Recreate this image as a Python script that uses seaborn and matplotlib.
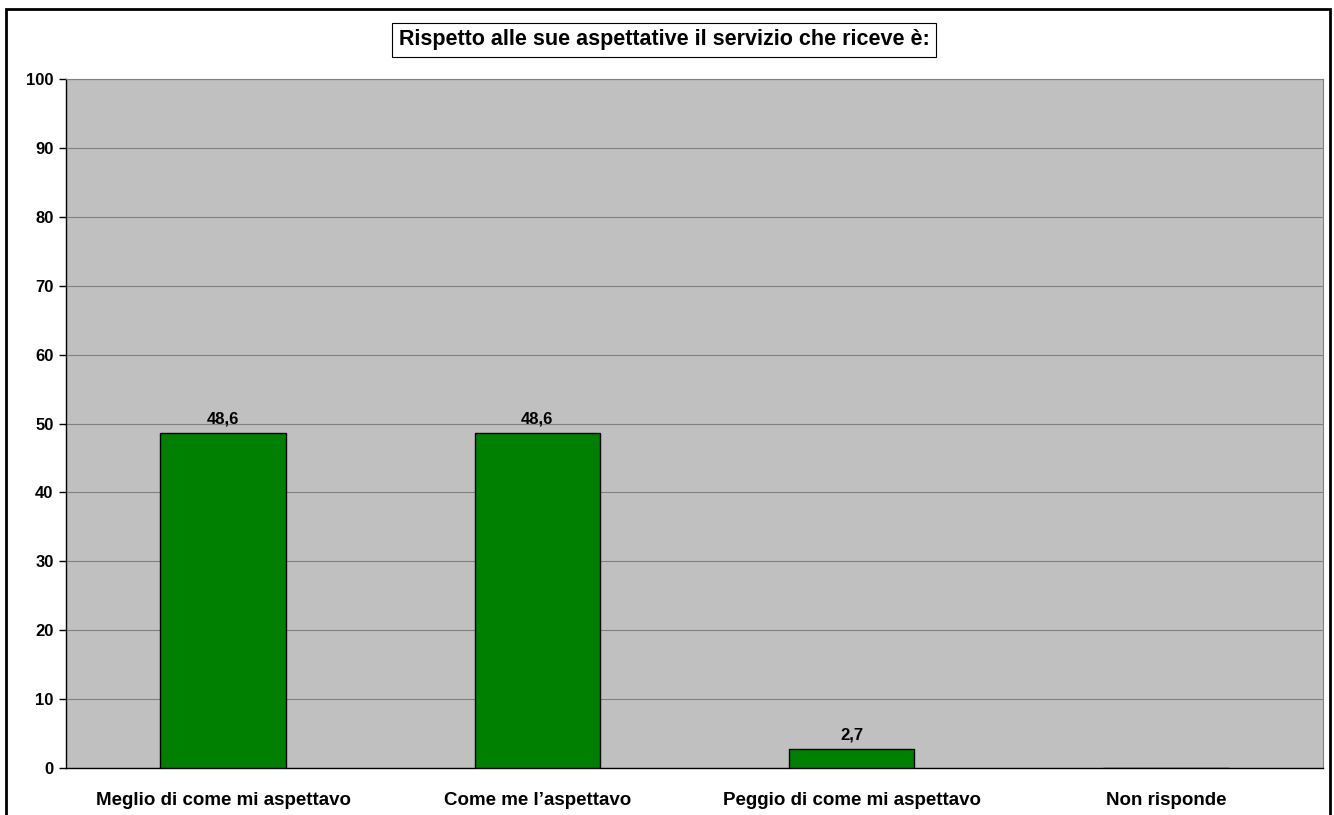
import matplotlib
matplotlib.use("Agg")
import matplotlib.pyplot as plt
import seaborn as sns
import pandas as pd
from matplotlib.patches import Rectangle

categories = ["Meglio di come mi aspettavo", "Come me l\u2019aspettavo",
              "Peggio di come mi aspettavo", "Non risponde"]
values = [48.6, 48.6, 2.7, 0.0]
value_labels = ["48,6", "48,6", "2,7", ""]
yticks = [0, 10, 20, 30, 40, 50, 60, 70, 80, 90, 100]
title = "Rispetto alle sue aspettative il servizio che riceve è:"

sns.set_theme(style="white")
plt.rcParams['font.family'] = ['Liberation Sans', 'DejaVu Sans']
plt.rcParams['text.color'] = 'black'
plt.rcParams['xtick.color'] = 'black'
plt.rcParams['ytick.color'] = 'black'

fig = plt.figure(figsize=(13.34, 8.15), dpi=100)
ax = fig.add_axes([66/1334, 1 - 768/815, (1323-66)/1334, (768-79)/815])
ax.set_facecolor("#C0C0C0")

df = pd.DataFrame({"cat": categories, "val": values})
sns.barplot(data=df, x="cat", y="val", color="#008000", saturation=1,
            edgecolor="black", linewidth=1, width=0.4, ax=ax, zorder=3)

ax.set_ylim(0, 100)
ax.set_xlim(-0.5, 3.5)
ax.set_yticks(yticks)
ax.set_yticklabels([str(t) for t in yticks], fontsize=12, fontweight="bold", color="black")
ax.yaxis.grid(True, color="#808080", linewidth=0.8, zorder=0)
ax.set_axisbelow(True)
ax.set_xlabel("")
ax.set_ylabel("")

ax.set_xticks([0, 1, 2, 3])
ax.set_xticklabels(categories, fontsize=13.5, fontweight="bold", color="black")
ax.tick_params(axis="x", length=0, pad=17)
ax.set_xticks([0.5, 1.5, 2.5, 3.5], minor=True)
ax.tick_params(axis="x", which="minor", length=5, width=1, color="black", direction="out")
ax.tick_params(axis="y", length=5, width=1, color="black", direction="out", pad=4, left=True)

for s in ["top", "right"]:
    ax.spines[s].set_visible(True)
    ax.spines[s].set_color("#808080")
    ax.spines[s].set_linewidth(0.8)
for s in ["left", "bottom"]:
    ax.spines[s].set_color("black")
    ax.spines[s].set_linewidth(1)

for i, (v, lab) in enumerate(zip(values, value_labels)):
    if lab:
        ax.annotate(lab, (i, v), xytext=(0, 5), textcoords="offset points",
                    ha="center", va="bottom", fontsize=12, fontweight="bold", color="black")

fig.text(664/1334, 1 - 40/815, title, ha="center", va="center", fontsize=15.5,
         fontweight="bold", color="black",
         bbox=dict(boxstyle="square,pad=0.3", facecolor="white", edgecolor="black", linewidth=0.8))

fig.patches.append(Rectangle((6/1334, -0.05), (1330-6)/1334, 1.05 - 9/815,
                             transform=fig.transFigure, fill=False,
                             edgecolor="black", linewidth=2))

fig.savefig("out.png", dpi=100)
